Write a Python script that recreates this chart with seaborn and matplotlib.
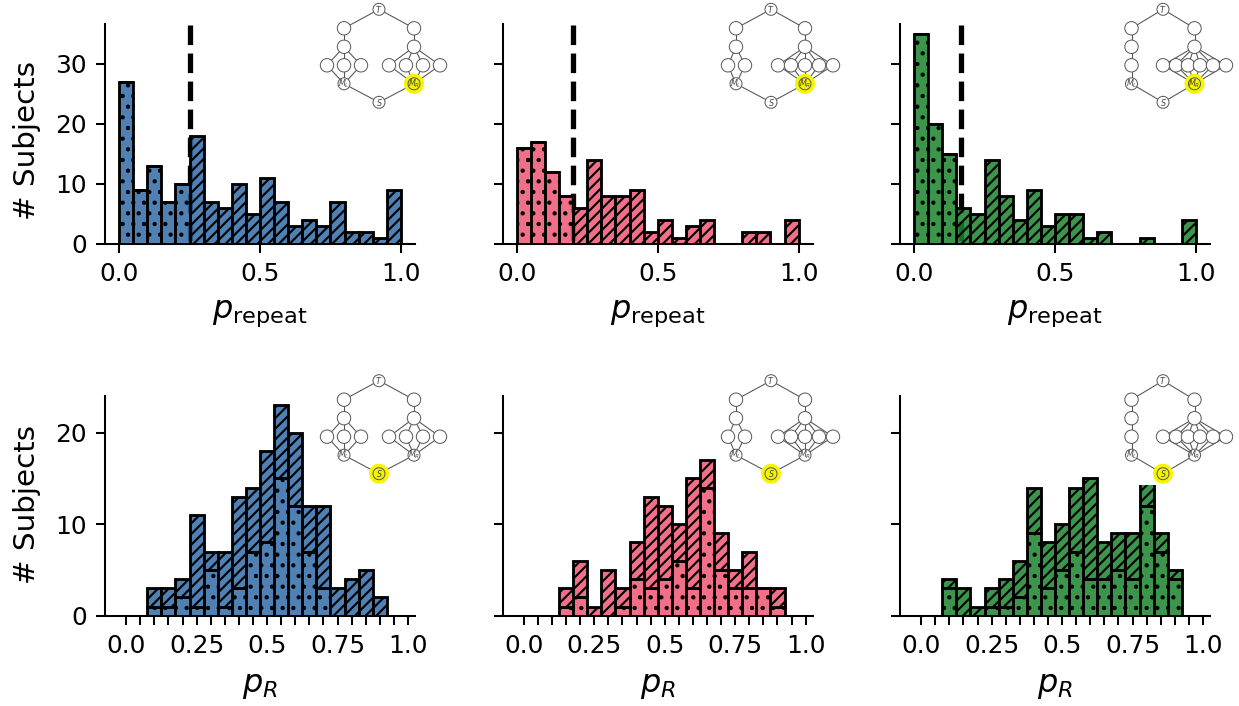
import numpy as np
import pandas as pd
import matplotlib
matplotlib.use("Agg")
import matplotlib.pyplot as plt
from matplotlib.patches import Circle
import seaborn as sns

# ---------- data ----------
colors = ["#306ba7", "#f05772", "#18842b"]
edges = [i * 0.05 for i in range(21)]
centers = [i * 0.05 + 0.025 for i in range(20)]

repeat_dot_1 = [27, 9, 13, 7, 10, 0, 0, 0, 0, 0, 0, 0, 0, 0, 0, 0, 0, 0, 0, 0]
repeat_hat_1 = [0, 0, 0, 0, 0, 18, 7, 6, 10, 5, 11, 7, 3, 4, 3, 7, 2, 2, 1, 9]
repeat_dot_2 = [16, 17, 12, 8, 0, 0, 0, 0, 0, 0, 0, 0, 0, 0, 0, 0, 0, 0, 0, 0]
repeat_hat_2 = [0, 0, 0, 0, 6, 14, 8, 8, 9, 2, 4, 1, 3, 4, 0, 0, 2, 2, 0, 4]
repeat_dot_3 = [35, 20, 15, 0, 0, 0, 0, 0, 0, 0, 0, 0, 0, 0, 0, 0, 0, 0, 0, 0]
repeat_hat_3 = [0, 0, 0, 6, 5, 14, 8, 4, 9, 3, 5, 5, 1, 2, 0, 0, 1, 0, 0, 4]
thresholds = [0.25, 0.2, 0.167]

pr_total_1 = [0, 0, 3, 3, 4, 11, 7, 7, 13, 14, 18, 23, 20, 12, 12, 3, 4, 5, 2, 0]
pr_dot_1 = [0, 0, 1, 1, 2, 1, 5, 1, 3, 7, 8, 15, 12, 7, 3, 0, 0, 0, 0, 0]
pr_total_2 = [0, 0, 0, 3, 6, 1, 5, 3, 8, 13, 12, 10, 15, 17, 9, 5, 7, 3, 3, 0]
pr_dot_2 = [0, 0, 0, 1, 2, 0, 0, 1, 4, 3, 4, 6, 3, 14, 5, 3, 3, 3, 1, 0]
pr_total_3 = [0, 0, 4, 3, 1, 3, 4, 6, 14, 8, 10, 14, 15, 8, 9, 9, 15, 9, 5, 0]
pr_dot_3 = [0, 0, 3, 0, 0, 1, 1, 2, 9, 3, 5, 7, 4, 4, 5, 4, 12, 7, 4, 0]

pr_ticks = [0.025 + i * 0.05 for i in range(21)]
pr_labels = ["0.0", "", "", "", "", "0.25", "", "", "", "", "0.5", "", "", "", "", "0.75", "", "", "", "", "1.0"]

# network layouts, offsets in pixels from the T node
layer_left = [[-52, -35, -18], [-43, -26], [-31.5]]
layer_right = [[10, 27, 44, 61], [7, 20, 34, 48, 62], [0, 13, 25, 37, 50, 63]]
arm_x_left = [-35, -35, -31.5]
arm_x_right = [35, 34, 31.5]
level_y = [0, 19, 37.5, 56, 74.5, 93]
top_x = [379, 771, 1163]
row_shift = [9.3, 380.7]
highlight = ["MR", "S"]

# ---------- style ----------
sns.set_theme(style="ticks")
DPI = 64
W, H = 1239, 706
plt.rcParams.update({
    "font.family": "DejaVu Sans",
    "mathtext.fontset": "dejavusans",
    "hatch.linewidth": 2.4,
    "axes.linewidth": 2.3,
    "axes.edgecolor": "black",
    "axes.labelcolor": "black",
    "xtick.color": "black",
    "ytick.color": "black",
    "xtick.major.width": 2.3,
    "ytick.major.width": 2.3,
    "xtick.major.size": 10.5,
    "ytick.major.size": 10.5,
    "xtick.major.pad": 10,
    "ytick.major.pad": 10,
    "xtick.labelsize": 28,
    "ytick.labelsize": 28,
})
fig = plt.figure(figsize=(W / DPI, H / DPI), dpi=DPI, facecolor="white")


def px_axes(x0, y0, x1, y1):
    return fig.add_axes([x0 / W, 1 - y1 / H, (x1 - x0) / W, (y1 - y0) / H])


def bars(ax, dot, hat, color):
    df = pd.DataFrame({
        "x": centers + centers,
        "w": list(dot) + list(hat),
        "part": ["dot"] * 20 + ["hat"] * 20,
    })
    sns.histplot(df, x="x", weights="w", hue="part", hue_order=["hat", "dot"],
                 multiple="stack", bins=edges, palette=[color, color], alpha=0.85,
                 edgecolor="black", linewidth=3.2, legend=False, ax=ax, zorder=3)
    for c in ax.containers:
        h = [p.get_height() for p in c]
        pat = "." if np.allclose(h, dot) else "//"
        for p in c:
            p.set_hatch(pat)


def network(col, row):
    cx = top_x[col]
    cy = row_shift[row]
    left = min(layer_left[col]) - 9
    ax = px_axes(cx + left, cy - 9.3, cx + 72, cy + 104.2)
    ax.set_xlim(left, 72)
    ax.set_ylim(104.2, -9.3)
    ax.set_xticks([])
    ax.set_yticks([])
    ax.set_facecolor("white")
    for s in ax.spines.values():
        s.set_visible(False)
    lc = "#555555"
    xl = arm_x_left[col]
    xr = arm_x_right[col]
    y = level_y
    segs = [((0, y[0]), (xl, y[1])), ((0, y[0]), (xr, y[1])),
            ((xr, y[1]), (xr, y[2])), ((xl, y[4]), (0, y[5])), ((xr, y[4]), (0, y[5])),
            ((xl, y[1]), (xl, y[2]))]
    for x in layer_left[col]:
        segs += [((xl, y[2]), (x, y[3])), ((x, y[3]), (xl, y[4]))]
    for x in layer_right[col]:
        segs += [((xr, y[2]), (x, y[3])), ((x, y[3]), (xr, y[4]))]
    for a, b in segs:
        ax.plot([a[0], b[0]], [a[1], b[1]], color=lc, lw=1.2, zorder=1)
    hl = (xr, y[4]) if highlight[row] == "MR" else (0, y[5])
    ax.add_patch(Circle(hl, 10, fc="#f5f500", ec="none", zorder=1.5))
    hidden = [(xl, y[1]), (xr, y[1]), (xl, y[2]), (xr, y[2])]
    hidden += [(x, y[3]) for x in layer_left[col] + layer_right[col]]
    for p in hidden:
        ax.add_patch(Circle(p, 6.7, fc="white", ec="#555555", lw=1.1, zorder=2))
    named = [((0, y[0]), "T"), ((xl, y[4]), "M_L"), ((xr, y[4]), "M_R"), ((0, y[5]), "S")]
    for p, name in named:
        is_hl = p == hl
        ax.add_patch(Circle(p, 6, fc="#f5f500" if is_hl else "white", ec="#555555", lw=1.1, zorder=2))
        ax.text(p[0], p[1], f"${name}$", ha="center", va="center", fontsize=9,
                color="#444444", zorder=3)


def ylabel(ax, y_center_px, y0, y1):
    ax.set_ylabel("# Subjects", fontsize=33)
    ax.yaxis.set_label_coords(-0.208, (y1 - y_center_px) / (y1 - y0))


# ---------- top row ----------
top_left = [105, 502.7, 900]
top_dot = [repeat_dot_1, repeat_dot_2, repeat_dot_3]
top_hat = [repeat_hat_1, repeat_hat_2, repeat_hat_3]
for i in range(3):
    ax = px_axes(top_left[i], 23.5, top_left[i] + 310, 243.5)
    bars(ax, top_dot[i], top_hat[i], colors[i])
    ax.plot([thresholds[i]] * 2, [36.4, 0], color="black", lw=5.95, ls="--",
            dash_capstyle="butt", zorder=2)
    ax.set_xlim(-0.05, 1.05)
    ax.set_ylim(0, 36.7)
    ax.set_xticks([0, 0.5, 1])
    ax.set_xticklabels(["0.0", "0.5", "1.0"])
    ax.set_yticks([0, 10, 20, 30])
    ax.set_xlabel(r"$p_\mathrm{repeat}$", fontsize=36, labelpad=14)
    if i == 0:
        ylabel(ax, 140, 23.5, 243.5)
    else:
        ax.set_ylabel("")
        ax.set_yticklabels([])
    sns.despine(ax=ax)
    network(i, 0)

# ---------- bottom row ----------
bot_total = [pr_total_1, pr_total_2, pr_total_3]
bot_dot = [pr_dot_1, pr_dot_2, pr_dot_3]
for i in range(3):
    ax = px_axes(top_left[i], 395.5, top_left[i] + 310, 615.7)
    hat = [t - d for t, d in zip(bot_total[i], bot_dot[i])]
    bars(ax, bot_dot[i], hat, colors[i])
    ax.set_xlim(-0.05, 1.05)
    ax.set_ylim(0, 24.05)
    ax.set_xticks(pr_ticks)
    ax.set_xticklabels(pr_labels)
    ax.set_yticks([0, 10, 20])
    ax.set_xlabel(r"$p_R$", fontsize=36, labelpad=14)
    if i == 0:
        ylabel(ax, 505, 395.5, 615.7)
    else:
        ax.set_ylabel("")
        ax.set_yticklabels([])
    sns.despine(ax=ax)
    network(i, 1)

fig.savefig("out.png", dpi=DPI, facecolor="white")
